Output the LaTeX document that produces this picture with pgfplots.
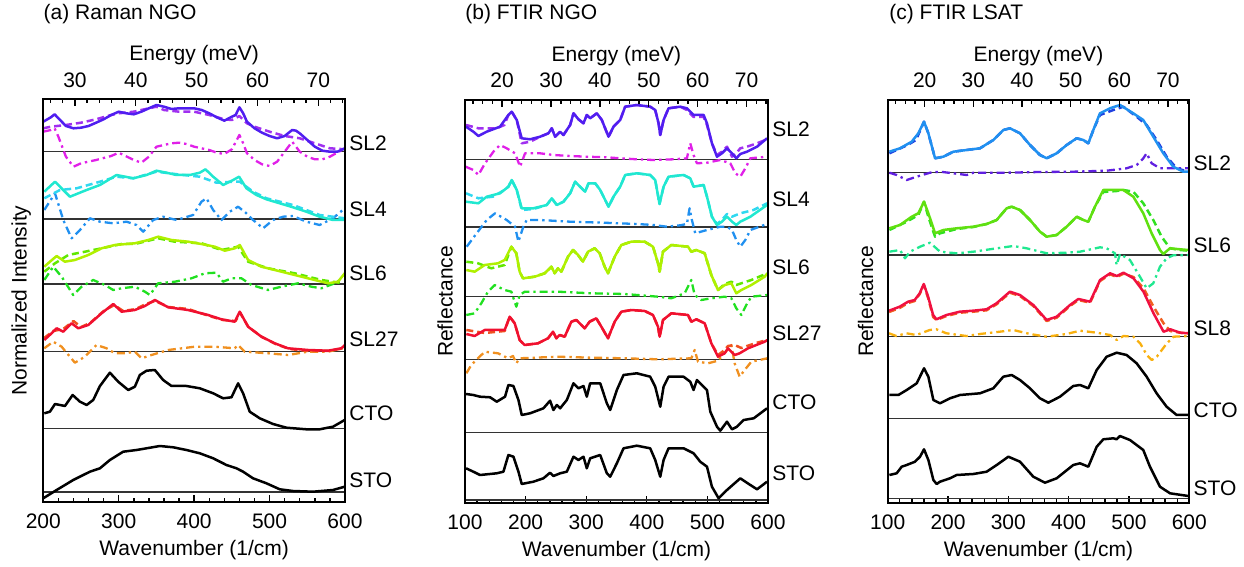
\documentclass[border=0pt]{standalone}
\usepackage{fontspec}
\setmainfont{Liberation Sans}
\usepackage{pgfplots}
\pgfplotsset{compat=1.18}
\definecolor{aA}{HTML}{501EF0}\definecolor{aB}{HTML}{A030F0}\definecolor{aC}{HTML}{E020E8}
\definecolor{bA}{HTML}{20E8D0}\definecolor{bB}{HTML}{30D8F0}\definecolor{bC}{HTML}{2090F0}
\definecolor{cA}{HTML}{B0F000}\definecolor{cB}{HTML}{60E800}\definecolor{cC}{HTML}{20E020}
\definecolor{dA}{HTML}{F01030}\definecolor{dB}{HTML}{F05020}\definecolor{dC}{HTML}{F09020}
\definecolor{eA}{HTML}{2090F0}\definecolor{eB}{HTML}{2040E0}\definecolor{eC}{HTML}{6020E0}
\definecolor{fA}{HTML}{60E010}\definecolor{fB}{HTML}{30E020}\definecolor{fC}{HTML}{20E890}
\definecolor{gA}{HTML}{F01040}\definecolor{gB}{HTML}{F06020}\definecolor{gC}{HTML}{F8B010}
\tikzset{
 base/.style={line width=0.55pt, black!80},
 sol/.style={line width=1.25pt, line join=round},
 das/.style={line width=1.25pt, line join=round, dash pattern=on 3.5pt off 2pt},
 dd/.style={line width=1.15pt, line join=round, dash pattern=on 4pt off 2pt on 1.2pt off 2pt},
}
\pgfplotsset{
 mainax/.style={scale only axis, anchor=south west, y dir=reverse, ytick=\empty, xtick pos=left,
  minor x tick num=4, axis line style={line width=1.1pt}, major tick length=3.4pt, minor tick length=2pt,
  every tick/.append style={line width=0.7pt, black}, clip mode=individual,
  xlabel={Wavenumber (1/cm)}, xlabel style={at={(axis description cs:0.5,0)}, anchor=center, yshift=-24pt},
  xticklabel style={yshift=-2.5pt}, /pgf/number format/assume math mode=true,
  every axis plot/.append style={no markers}},
 topax/.style={scale only axis, anchor=south west, ymin=0, ymax=1, ytick=\empty, xtick pos=right,
  xticklabel pos=right, xtick={20,30,...,70}, minor xtick={14,16,...,74}, axis line style={line width=1.1pt},
  major tick length=3.4pt, minor tick length=2pt, every tick/.append style={line width=0.7pt, black},
  xmax=74.39, xlabel={Energy (meV)}, xlabel style={at={(axis description cs:0.5,1)}, anchor=center, yshift=22pt},
  xticklabel style={yshift=2.5pt}, /pgf/number format/assume math mode=true},
}
\begin{document}
\begin{tikzpicture}[font=\fontsize{10.5}{12.6}\selectfont]
\path[use as bounding box] (0,0) rectangle (622pt,283.5pt);
\node[anchor=west, inner sep=0pt] at (21.65pt,276.25pt) {(a) Raman NGO};
\node[anchor=west, inner sep=0pt] at (232.5pt,276.25pt) {(b) FTIR NGO};
\node[anchor=west, inner sep=0pt] at (444.5pt,276.25pt) {(c) FTIR LSAT};
%%%%%%%%%%%%%%%%%%%%%%%% (a)
\begin{axis}[mainax, at={(21.65pt,32.5pt)}, width=150.85pt, height=201.35pt, xmin=200, xmax=600,
 ymin=99.3, ymax=502, xtick={200,300,...,600}, ylabel={Normalized Intensity},
 ylabel style={at={(axis description cs:-0.073,0.5)}, anchor=center}]
\addplot[base] coordinates {(200,151.7)(600,151.7)};
\addplot[base] coordinates {(200,219)(600,219)};
\addplot[base] coordinates {(200,284)(600,284)};
\addplot[base] coordinates {(200,351.7)(600,351.7)};
\addplot[base] coordinates {(200,428.3)(600,428.3)};
\addplot[base] coordinates {(200,492)(600,492)};
% SL2
\addplot[dd,aC] coordinates {(200,131.7)(210,130)(215,128.3)(220,136.7)(230,156.7)(240,166.7)(250,163.3)(270,160)(290,156)(300,152.7)(320,160)(330,162.7)(340,156.7)(350,146.7)(370,143.3)(380,142.7)(390,144)(400,146.7)(420,150)(430,152.7)(440,154)(450,149.3)(460,135)(465,143.3)(470,153.3)(480,160)(490,164.3)(500,166)(510,161.7)(520,151.7)(530,141.7)(540,151.7)(550,156.7)(560,159.3)(570,159.3)(580,156.7)(600,148.3)};
\addplot[das,aB] coordinates {(200,128.3)(210,126.7)(230,125)(250,122.7)(270,119.3)(290,115)(300,113.3)(320,111.7)(340,108.3)(350,106.7)(360,110)(380,111.7)(400,111.7)(420,115)(440,119.3)(450,120)(460,116)(470,123.3)(480,126.7)(500,131.7)(520,136)(540,138.3)(560,143.3)(580,148.3)(600,149.3)};
\addplot[sol,aA] coordinates {(200,121.7)(210,117.3)(215,114.3)(220,118.3)(230,126)(240,128.3)(250,127.7)(260,126)(270,122.7)(280,119.3)(290,115)(300,111.7)(310,113.3)(320,114.3)(330,111.7)(340,108.3)(350,105)(360,106.7)(370,109)(380,108.3)(390,108.3)(400,108.3)(410,110)(420,113.3)(430,117.3)(440,120.7)(450,116.7)(455,115)(460,107.3)(465,113.3)(470,121.7)(480,128.3)(490,132.7)(500,136)(510,138.3)(520,136)(530,130)(535,130.7)(540,133.3)(550,140)(560,146.7)(570,150.7)(580,151.7)(590,151.7)(600,148.3)};
% SL4
\addplot[dd,bC] coordinates {(201.3,210)(215.5,193.3)(226.5,220)(237.5,238.3)(248.6,230)(261.8,218.3)(275.1,221.7)(292.7,223.3)(310.4,221.7)(323.6,225)(332.5,231.7)(345.7,220)(358.9,216.7)(376.6,220)(398.7,215)(409.7,201.7)(416.3,198.3)(425.2,210)(436.2,220)(447.2,211.7)(458.3,206.7)(469.3,213.3)(478.1,220)(491.4,228.3)(504.6,220)(517.9,216.7)(531.1,216)(548.8,221.7)(566.4,225)(584.1,218.3)(599.6,208.3)};
\addplot[das,bB] coordinates {(201.3,198.3)(222.1,190)(244.2,188.3)(275.1,181.7)(297.1,176.7)(319.2,178.3)(350.1,171.7)(385.4,175)(407.5,176.7)(429.6,182.7)(451.7,181.7)(460.5,181.7)(478.1,191.7)(495.8,198.3)(531.1,205)(566.4,215)(599.6,218.3)};
\addplot[sol,bA] coordinates {(201.3,191.7)(215.5,181.7)(235.3,196.7)(257.4,190)(275.1,185)(297.1,175)(319.2,178.3)(336.9,175)(350.1,170.7)(363.4,172.7)(376.6,175)(394.3,175)(407.5,172.7)(415,169.3)(425.2,176.7)(438.4,185)(451.7,180)(459.6,176.7)(469.3,188.3)(482.6,195)(495.8,199.3)(513.5,203.3)(531.1,207.3)(548.8,211.7)(566.4,216.7)(584.1,220)(599.6,220)};
% SL6
\addplot[dd,cC] coordinates {(201.3,280)(213.2,266.7)(224.3,276.7)(239.7,295)(250.8,286.7)(266.2,280)(281.7,285)(292.7,290)(303.8,288.3)(321.4,286.7)(334.7,291.7)(341.3,295)(352.3,283.3)(374.4,281.7)(396.5,278.3)(414.2,273.3)(429.6,272.7)(438.4,281.7)(449.5,278.3)(462.7,278.3)(476,285)(498,290)(515.7,286.7)(537.8,283.3)(555.4,286.7)(568.7,288.3)(586.4,283.3)(597.4,278.3)};
\addplot[das,cB] coordinates {(201.3,271.7)(215.5,263.3)(233.1,255)(255.2,251.7)(277.3,248.3)(303.8,244)(321.4,244)(352.3,238.3)(374.4,241.7)(409.7,243.3)(436.2,250)(458.3,246.7)(471.5,261.7)(498,268.3)(533.3,273.3)(568.7,280)(597.4,283.3)};
\addplot[sol,cA] coordinates {(201.3,266.7)(208.8,261.7)(217.7,256)(228.7,261.7)(241.9,260)(259.6,255)(277.3,248.3)(294.9,245)(321.4,243.3)(339.1,240)(352.3,236.7)(370,240)(392,241.7)(409.7,244)(427.4,246.7)(440.6,250.7)(453.9,248.3)(460.5,245)(471.5,260)(489.2,266.7)(506.8,270)(533.3,275)(559.8,280)(577.5,283.3)(590.7,281.7)(600,273)};
% SL27
\addplot[dd,dC] coordinates {(201.3,348.3)(213.2,341.7)(224.3,346.7)(241.9,362.7)(255.2,356.7)(270.6,345)(283.9,348.3)(294.9,353.3)(308.2,353.3)(321.4,351.7)(330.2,358.3)(343.5,355)(365.6,350)(400.9,346.7)(427.4,346.7)(453.9,348.3)(458.3,345)(467.1,351.7)(498,353.3)(524.5,355)(551,351.7)(577.5,351.7)(597.4,348.3)};
\addplot[das,dB] coordinates {(201.3,338)(213,331)(226.5,329)(240,321)(250,327)(262,323)(280,311)(294,305)(306,311)(323,309)(336,304)(348,301)(366,307)(392,309)(420,316)(438,320)(455,321)(461,313)(472,327)(490,337)(508,344)(526,349)(552,351)(578,351)(600,348)};
\addplot[sol,dA] coordinates {(201.3,340)(211,333.3)(217.7,328.3)(226.5,331.7)(237.5,323.3)(246.4,328.3)(259.6,325)(277.3,313.3)(292.7,304)(303.8,311.7)(321.4,310)(334.7,306)(347.9,300)(365.6,307.3)(392,310)(418.5,315)(436.2,319.3)(453.9,321.7)(460.5,311.7)(471.5,326.7)(489.2,336.7)(506.8,343.3)(524.5,348.3)(551,350)(577.5,350.7)(595.2,348.3)(600,345)};
% CTO, STO
\addplot[sol,black] coordinates {(201.3,413.3)(208.8,411.7)(215.5,404)(222.1,405)(228.7,406)(238.9,395)(248.6,401.7)(257.4,405)(266.2,400)(275.1,386)(288.3,372.7)(299.3,381.7)(312.6,390)(321.4,386.7)(328,375)(336.9,370.7)(347.9,370)(358.9,380)(370,386)(389.8,386)(407.5,388.3)(425.2,393.3)(438.4,398.3)(449.5,397.3)(458.3,383.3)(464.9,393.3)(473.7,411.7)(487,418.3)(504.6,424)(522.3,427.7)(548.8,429.3)(566.4,429.3)(584.1,426.7)(599.6,420)};
\addplot[sol,black] coordinates {(199.9,498.3)(217.7,490)(239.7,480)(261.8,471.7)(275.1,468.3)(288.3,460)(305.9,451.7)(323.6,450)(336.9,448.3)(354.5,446)(372.2,447.3)(389.8,450)(407.5,453.3)(425.2,458.3)(442.8,465)(456.1,468.3)(464.9,471.7)(478.1,478.3)(495.8,483.3)(513.5,489.3)(531.1,491)(557.6,491.7)(584.1,490)(599.6,486.7)};
\node[anchor=west, inner sep=0pt, xshift=2pt] at (axis cs:600,143) {SL2};
\node[anchor=west, inner sep=0pt, xshift=2pt] at (axis cs:600,209.5) {SL4};
\node[anchor=west, inner sep=0pt, xshift=2pt] at (axis cs:600,273) {SL6};
\node[anchor=west, inner sep=0pt, xshift=2pt] at (axis cs:600,339) {SL27};
\node[anchor=west, inner sep=0pt, xshift=2pt] at (axis cs:600,413) {CTO};
\node[anchor=west, inner sep=0pt, xshift=2pt] at (axis cs:600,480) {STO};
\end{axis}
\begin{axis}[topax, at={(21.65pt,32.5pt)}, width=150.85pt, height=201.35pt, xmin=24.80, xtick={30,40,...,70}, minor xtick={26,28,...,74}]
\end{axis}
%%%%%%%%%%%%%%%%%%%%%%%% (b)
\begin{axis}[mainax, at={(232.5pt,32pt)}, width=151.5pt, height=201.5pt, xmin=100, xmax=600,
 ymin=100, ymax=503, xtick={100,200,...,600}, ylabel={Reflectance},
 ylabel style={at={(axis description cs:-0.066,0.5)}, anchor=center}]
\addplot[base] coordinates {(100,159.3)(600,159.3)};
\addplot[base] coordinates {(100,227)(600,227)};
\addplot[base] coordinates {(100,296.7)(600,296.7)};
\addplot[base] coordinates {(100,359.3)(600,359.3)};
\addplot[base] coordinates {(100,432.3)(600,432.3)};
\addplot[base] coordinates {(100,500)(600,500)};
% SL2
\addplot[dd,aC] coordinates {(101.1,166.7)(113.8,170)(122.1,175)(133.1,163.3)(146.9,151.7)(157.8,145)(168.8,148.3)(182.6,153.3)(190.9,166.7)(199.1,153.3)(223.9,153.3)(246,155)(273.5,156)(301,156.7)(334,157.3)(356.1,158.3)(383.6,159.3)(411.1,160)(444.2,159.3)(466.2,158.3)(471.7,143.3)(477.2,155)(482.7,163.3)(499.3,162.7)(521.3,160)(537.8,163.3)(546.1,173.3)(554.3,176.7)(562.6,168.3)(570.9,158.3)(598.4,156.7)};
\addplot[das,aB] coordinates {(101.7,125)(122.1,128.3)(152,128.3)(165,125)(171.6,115)(177.1,111.7)(185.4,120)(193.6,143.3)(207.4,141.7)(223.9,136.7)(237.7,133.3)(243.2,128.3)(248.7,136.7)(257,131.7)(262.5,135)(273.5,125)(279,113.3)(287.2,119.3)(295.5,123.3)(301,115)(306.5,118.3)(317.5,113.3)(325.8,120)(336.8,136.7)(345.1,126.7)(356.1,120)(364.3,106.7)(383.6,105)(405.6,106.7)(413.9,110)(419.4,123.3)(422.2,135)(427.7,120)(435.9,108.3)(455.2,106.7)(466.2,110)(477.2,117)(493.8,117)(499.3,125)(507.5,143.3)(515.8,155)(524,151.7)(532.3,146.7)(540.6,156.7)(547.7,153.3)(554.3,148.3)(565.3,146.7)(581.9,143.3)(598.4,139.3)};
\addplot[sol,aA] coordinates {(101.7,126.7)(113.8,131.7)(122.1,136)(135.8,131.7)(157.8,126.7)(171.6,115)(177.1,111.7)(185.4,120)(193.6,138.3)(207.4,139.3)(223.9,136.7)(237.7,133.3)(243.2,128.3)(248.7,136.7)(257,131.7)(262.5,135)(273.5,125)(279,113.3)(287.2,119.3)(295.5,123.3)(301,115)(306.5,118.3)(317.5,113.3)(325.8,120)(336.8,136.7)(345.1,126.7)(356.1,120)(364.3,106.7)(383.6,105)(405.6,106.7)(413.9,110)(419.4,123.3)(422.2,135)(427.7,120)(435.9,108.3)(455.2,106.7)(466.2,108.3)(477.2,115)(493.8,115)(499.3,123.3)(507.5,143.3)(515.8,156.7)(524,153.3)(532.3,148.3)(540.6,153.3)(547.7,158.3)(554.3,154)(565.3,151.7)(581.9,146.7)(598.4,138.3)};
% SL4
\addplot[dd,bC] coordinates {(102.8,246.7)(119.3,233.3)(135.8,220)(149.6,213.3)(168.8,220)(182.6,226.7)(188.1,241.7)(196.3,226.7)(201.8,220)(223.9,220)(273.5,221.7)(328.5,222.7)(383.6,224)(411.1,225)(433.1,226.7)(455.2,225.3)(466.2,224)(470.6,208.3)(474.4,220)(479.9,233.3)(499.3,230)(521.3,226.7)(532.3,226.7)(540.6,230)(547.7,240)(554.3,246.7)(562.6,240)(570.9,230)(598.4,224)};
\addplot[das,bB] coordinates {(101.7,193.3)(122.1,198.3)(146,196.7)(165,190)(171.6,186.7)(177.1,180)(185.4,190)(193.6,210)(212.9,209)(234.9,205)(243.2,198.3)(251.5,205)(262.5,201.7)(273.5,193.3)(281.8,181.7)(290,186.7)(298.3,191.7)(303.8,183.3)(314.8,183.3)(323.1,190)(336.8,206.7)(345.1,196.7)(356.1,186.7)(364.3,175)(383.6,173.3)(405.6,175)(413.9,180)(421,204)(427.7,186.7)(435.9,176.7)(460.7,175)(471.7,178.3)(477.2,186.7)(493.8,185)(499.3,196.7)(507.5,216.7)(515.8,224)(524,220)(532.3,214)(540.6,216.7)(554.3,213.3)(576,210)(598.4,203.3)};
\addplot[sol,bA] coordinates {(101.7,201.7)(122.1,203.3)(135.8,196.7)(157.8,193.3)(171.6,186.7)(177.1,180)(185.4,190)(193.6,208.3)(212.9,208.3)(234.9,205)(243.2,198.3)(251.5,205)(262.5,201.7)(273.5,193.3)(281.8,181.7)(290,186.7)(298.3,191.7)(303.8,183.3)(314.8,183.3)(323.1,190)(336.8,206.7)(345.1,196.7)(356.1,186.7)(364.3,175)(383.6,173.3)(405.6,175)(413.9,180)(421,204)(427.7,186.7)(435.9,176.7)(460.7,175)(471.7,178.3)(477.2,186.7)(493.8,185)(499.3,196.7)(507.5,216.7)(515.8,225)(524,221.7)(532.3,216.7)(540.6,221.7)(547.7,225)(554.3,221.7)(570.9,216.7)(598.4,205)};
% SL6
\addplot[dd,cC] coordinates {(102.2,315)(115.9,313.3)(126.9,303.3)(137.9,291.7)(148.9,285)(165.5,290)(176.5,291.7)(184.7,306.7)(190.2,295)(198.5,291.7)(253.5,291.7)(308.5,293.3)(363.5,294)(418.5,296.7)(440.5,298.3)(462.5,293.3)(473.5,280)(479,295)(490,300)(506.5,298.3)(528.5,296.7)(539.5,298.3)(547.7,308.3)(556,315)(564.2,305)(572.5,296.7)(598.9,295)};
\addplot[das,cB] coordinates {(102.2,261.7)(121.4,263.3)(143.4,268.3)(165.5,265)(176.5,246.7)(184.7,253.3)(190.2,271.7)(195.7,278.3)(215,276.7)(231.5,273.3)(242.5,266.7)(248,273.3)(253.5,268.3)(259,271.7)(270,256.7)(278.2,250)(286.5,255)(294.7,261.7)(303,251.7)(314,248.3)(322.2,253.3)(330.5,266.7)(336,273.3)(347,256.7)(358,245)(374.5,241.7)(396.5,241.7)(410.2,246.7)(418.5,263.3)(421.2,271.7)(426.7,251.7)(440.5,245)(468,246.7)(473.5,251.7)(481.7,250)(495.5,253.3)(506.5,275)(517.5,290)(528.5,284)(539.5,281.7)(547.7,285)(556,283.3)(572.5,280)(598.9,273.3)};
\addplot[sol,cA] coordinates {(102.2,270)(115.9,271.7)(132.5,265)(154.5,263.3)(165.5,260)(176.5,246.7)(184.7,253.3)(190.2,271.7)(195.7,278.3)(215,276.7)(231.5,273.3)(242.5,266.7)(248,273.3)(253.5,268.3)(259,271.7)(270,256.7)(278.2,250)(286.5,255)(294.7,261.7)(303,251.7)(314,248.3)(322.2,253.3)(330.5,266.7)(336,273.3)(347,256.7)(358,245)(374.5,241.7)(396.5,241.7)(410.2,246.7)(418.5,263.3)(421.2,271.7)(426.7,251.7)(440.5,245)(468,246.7)(473.5,251.7)(481.7,250)(495.5,253.3)(506.5,275)(517.5,290)(528.5,285)(539.5,283.3)(547.7,293.3)(556,290)(572.5,285)(594.5,276.7)(598.9,273.3)};
% SL27
\addplot[dd,dC] coordinates {(102.2,373.3)(110.4,365)(132.5,351.7)(154.5,353.3)(171,358.3)(179.2,356)(184.7,363.3)(190.2,358.3)(253.5,356.7)(308.5,357.7)(363.5,358.3)(418.5,359.3)(473.5,358.3)(479,350)(484.5,361.7)(501,363.3)(517.5,360.7)(539.5,345)(545,363.3)(553.2,376.7)(561.5,370)(572.5,361.7)(598.9,358.3)};
\addplot[das,dB] coordinates {(102.2,330)(132.5,333)(165.5,331)(173.7,316.7)(182,323.3)(190.2,340)(198.5,345)(220.5,343.3)(237,338.3)(245.2,331.7)(250.7,338.3)(256.2,335)(264.5,336.7)(275.5,321.7)(283.7,320)(292,325)(297.5,328.3)(305.7,321.7)(316.7,318.3)(325,326.7)(336,338.3)(347,321.7)(358,311.7)(374.5,310)(396.5,311)(410.2,315)(418.5,326.7)(421.2,336.7)(426.7,320)(440.5,313.3)(468,315)(473.5,321.7)(481.7,319.3)(495.5,323.3)(506.5,343.3)(517.5,355)(528.5,350)(534,346)(545,345)(556,348)(580,343)(598.9,340)};
\addplot[sol,dA] coordinates {(102.2,334)(115.9,336)(132.5,330)(154.5,330)(165.5,330)(173.7,316.7)(182,323.3)(190.2,340)(198.5,345)(220.5,343.3)(237,338.3)(245.2,331.7)(250.7,338.3)(256.2,335)(264.5,336.7)(275.5,321.7)(283.7,320)(292,325)(297.5,328.3)(305.7,321.7)(316.7,318.3)(325,326.7)(336,338.3)(347,321.7)(358,311.7)(374.5,310)(396.5,311)(410.2,315)(418.5,326.7)(421.2,336.7)(426.7,320)(440.5,313.3)(468,315)(473.5,321.7)(481.7,319.3)(495.5,323.3)(506.5,343.3)(517.5,356.7)(528.5,353.3)(534,348.3)(545,355)(553.2,353.3)(567,348.3)(594.5,341.7)(598.9,340)};
% CTO, STO
\addplot[sol,black] coordinates {(101.7,394)(113.8,395)(124.8,396.7)(141.4,397.3)(152.4,401.7)(166.1,396.7)(171.6,385)(179.9,386)(188.2,400)(193.6,415)(207.4,413.3)(229.4,408.3)(240.4,400.7)(245.9,410)(251.5,405)(257,408.3)(268,400)(279,383.3)(287.2,388.3)(295.5,386)(301,396.7)(306.5,383.3)(323.1,383.3)(334.1,403.3)(339.6,410)(350.6,390)(361.6,375)(383.6,373.3)(405.6,376.7)(413.9,386.7)(422.2,406.7)(427.7,386.7)(435.9,376.7)(460.7,376.7)(471.7,381.7)(477.2,390)(482.7,380)(499.3,390)(504.8,411.7)(515.8,426.7)(521.3,430.7)(532.3,421.7)(540.6,429.3)(548.9,426.7)(559.9,420)(576.4,418.3)(598.4,408.3)};
\addplot[sol,black] coordinates {(101.7,468.3)(113.8,471.7)(124.8,475)(152.4,473.3)(163.4,471.7)(171.6,455)(179.9,456.7)(188.2,471.7)(193.6,484)(212.9,481.7)(229.4,478.3)(240.4,472.7)(245.9,476)(257,473.3)(268,471.7)(279,456.7)(287.2,460)(295.5,456.7)(301,468.3)(306.5,458.3)(323.1,455)(334.1,473.3)(339.6,476.7)(350.6,463.3)(361.6,448.3)(383.6,445.7)(405.6,448.3)(413.9,460)(422.2,476.7)(427.7,460)(435.9,448.3)(460.7,448.3)(477.2,453.3)(488.2,461.7)(499.3,466.7)(507.5,486.7)(518.5,498.3)(532.3,490)(554.3,478.3)(570.9,485)(581.9,489.3)(598.4,481.7)};
\node[anchor=west, inner sep=0pt, xshift=2pt] at (axis cs:600,129) {SL2};
\node[anchor=west, inner sep=0pt, xshift=2pt] at (axis cs:600,199) {SL4};
\node[anchor=west, inner sep=0pt, xshift=2pt] at (axis cs:600,267) {SL6};
\node[anchor=west, inner sep=0pt, xshift=2pt] at (axis cs:600,333) {SL27};
\node[anchor=west, inner sep=0pt, xshift=2pt] at (axis cs:600,402) {CTO};
\node[anchor=west, inner sep=0pt, xshift=2pt] at (axis cs:600,473) {STO};
\end{axis}
\begin{axis}[topax, at={(232.5pt,32pt)}, width=151.5pt, height=201.5pt, xmin=12.40]
\end{axis}
%%%%%%%%%%%%%%%%%%%%%%%% (c)
\begin{axis}[mainax, at={(443.85pt,32pt)}, width=150.8pt, height=201.5pt, xmin=100, xmax=600,
 ymin=100, ymax=503, xtick={100,200,...,600}, ylabel={Reflectance},
 ylabel style={at={(axis description cs:-0.073,0.5)}, anchor=center}]
\addplot[base] coordinates {(100,172.3)(600,172.3)};
\addplot[base] coordinates {(100,255)(600,255)};
\addplot[base] coordinates {(100,336.3)(600,336.3)};
\addplot[base] coordinates {(100,418.3)(600,418.3)};
\addplot[base] coordinates {(100,498.3)(600,498.3)};
% SL2
\addplot[dd,eC] coordinates {(102.8,172.7)(114.9,175)(131.5,180)(148.1,176.7)(170.2,172.7)(186.7,171.7)(208.8,173.3)(230.9,175)(242,172.7)(297.2,172.7)(352.5,172)(407.7,171.7)(463,170.7)(496.1,168.3)(512.7,165)(523.8,158.3)(529.3,153.3)(537.6,163.3)(551.4,168.3)(573.5,168.3)(598.4,168.3)};
\addplot[das,eB] coordinates {(102.8,153.3)(133,145)(146.9,140)(160.2,121.7)(167.4,133.3)(178.5,158.3)(192.3,156.7)(208.8,151.7)(230.9,150)(253,148.3)(275.1,140)(291.7,130)(302.8,128.3)(319.3,133.3)(335.9,145)(352.5,155)(363.6,158.3)(380.1,153.3)(396.7,145)(413.2,138.3)(424.3,140)(432.6,143.3)(440.9,130)(451.9,115)(474.1,110)(490.6,106.7)(512.7,116.7)(529.3,125)(545.8,140)(562.4,156.7)(579,168.3)(598.4,171.7)};
\addplot[sol,eA] coordinates {(102.8,151.7)(120.4,148.3)(139.8,141.7)(150.8,133.3)(160.2,121.7)(167.4,133.3)(178.5,158.3)(192.3,156.7)(208.8,151.7)(230.9,150)(253,148.3)(275.1,140)(291.7,130)(302.8,128.3)(319.3,133.3)(335.9,145)(352.5,155)(363.6,158.3)(380.1,153.3)(396.7,145)(413.2,138.3)(424.3,140)(432.6,143.3)(440.9,130)(451.9,113.3)(468.5,108.3)(485.1,105)(507.2,113.3)(523.7,120)(540.3,136.7)(556.9,153.3)(573.4,166.7)(590,171.7)(598.4,171.7)};
% SL6
\addplot[dd,fC] coordinates {(102.8,251.7)(120.4,250)(128.7,258.3)(137,251.7)(153.6,246.7)(170.2,242.7)(186.7,251.7)(214.4,253.3)(242,251.7)(269.6,249.3)(308.3,246)(330.4,248.3)(363.6,253.3)(396.7,252.7)(418.8,251.7)(452,247.3)(463,248.3)(476.8,253.3)(479.5,265)(485.1,254)(501.6,260)(518.2,276.7)(529.3,288.3)(540.3,283.3)(551.4,266.7)(562.4,258.3)(573.5,255.3)(598.4,255)};
\addplot[das,fB] coordinates {(102.8,230)(131.5,221.7)(150.8,215)(160.2,201.7)(167.4,216.7)(178.5,236.7)(186.7,233.3)(214.4,229)(242,227)(264.1,224)(280.7,220)(297.2,208.3)(305.5,206.7)(319.3,210)(335.9,220)(352.5,231.7)(363.6,236.7)(380.1,235)(396.7,226.7)(413.2,216.7)(424.3,220)(432.6,221.7)(443.6,206.7)(457.4,192)(479.5,191)(490.6,190)(507.2,191.7)(523.7,203.3)(540.3,220)(554.1,236.7)(568,248.3)(584.5,250)(598.4,250.7)};
\addplot[sol,fA] coordinates {(102.8,228.3)(120.4,225)(139.8,216.7)(150.8,213.3)(160.2,201.7)(167.4,213.3)(178.5,233.3)(192.3,230)(214.4,228.3)(242,226.7)(264.1,224)(280.7,220)(297.2,208.3)(305.5,206.7)(319.3,210)(335.9,220)(352.5,231.7)(363.6,236.7)(380.1,235)(396.7,226.7)(413.2,216.7)(424.3,220)(432.6,221.7)(443.6,206.7)(457.4,190)(479.5,190)(490.6,190)(507.2,196.7)(523.7,213.3)(537.6,233.3)(551.4,250)(556.9,254)(568,248.3)(584.5,249.3)(598.4,250)};
% SL8
\addplot[dd,gC] coordinates {(102.2,333.3)(114.4,336)(131,333.3)(147.6,335)(169.7,330)(180.8,329.3)(197.4,333.3)(230.6,336)(252.8,334)(286,331.7)(308.1,330)(335.8,334)(363.5,336.7)(396.7,334)(418.8,330.7)(446.5,332.7)(468.7,335)(479.8,340)(490.9,336)(507.5,336.7)(518.5,343.3)(529.6,355)(537.9,360)(546.2,356.7)(562.8,343.3)(573.9,336.7)(598.9,336)};
\addplot[das,gB] coordinates {(102.2,312)(119.9,308)(133.8,303)(144.8,301)(153.1,294)(159.8,285)(167,298)(175.3,317)(180.8,320)(197.4,316)(219.6,312.7)(241.7,311.7)(263.9,310.3)(280.5,304.3)(302.6,292.7)(319.2,296)(341.4,306)(363.5,321)(380.1,317.7)(402.3,306)(416.1,300)(435.5,302.7)(452.1,281)(468.7,274.3)(479.8,277)(490.9,273.7)(507.5,277)(524.1,288.3)(540.7,306.7)(557.3,323.3)(568.4,331)(585,332.7)(598.9,333.3)};
\addplot[sol,gA] coordinates {(102.2,310.7)(119.9,306.7)(133.8,301.7)(144.8,300)(153.1,293.3)(159.8,284)(167,296.7)(175.3,315)(180.8,319.3)(197.4,315)(219.6,311.7)(241.7,310.7)(263.9,309.3)(280.5,303.3)(302.6,291.7)(319.2,295)(341.4,305)(363.5,320)(380.1,316.7)(402.3,305)(416.1,299)(435.5,301.7)(452.1,280)(468.7,273.3)(479.8,276)(490.9,272.7)(507.5,278.3)(524.1,291.7)(540.7,313.3)(557.3,331.7)(568.4,329.3)(585,332.7)(598.9,333.3)};
% CTO, STO
\addplot[sol,black] coordinates {(102.8,395)(117.7,395)(131.5,390)(148.1,383.3)(160.2,368.3)(167.4,376.7)(175.7,400)(186.7,403.3)(203.3,398.3)(219.9,395)(253,393.3)(275.1,388.3)(291.7,376.7)(305.5,375)(319.3,380)(335.9,388.3)(352.5,398.3)(366.3,402.7)(385.6,396.7)(407.7,386)(418.8,385)(432.6,388.3)(446.5,370)(463,356.7)(479.6,352.7)(496.1,355)(512.7,363.3)(529.3,376.7)(545.8,393.3)(562.4,406.7)(579,415)(598.4,415)};
\addplot[sol,black] coordinates {(102.8,475)(114.9,473.3)(123.2,466.7)(131.5,465)(145.3,461.7)(153.6,456.7)(160.2,449.3)(167.4,460)(175.7,480)(181.2,484)(186.7,481.7)(203.3,478.3)(214.4,475)(242,474)(264.1,471.7)(280.7,465)(300,456.7)(319.3,461.7)(341.4,476.7)(360.7,482.7)(380.1,478.3)(407.7,465)(418.8,463.3)(432.6,466.7)(446.5,446.7)(457.5,439.3)(474.1,438.3)(479.6,439.3)(485.1,436)(501.6,440)(523.7,450)(534.8,466.7)(551.4,486.7)(568,493.3)(598.4,496)};
\node[anchor=west, inner sep=0pt, xshift=2pt] at (axis cs:600,163) {SL2};
\node[anchor=west, inner sep=0pt, xshift=2pt] at (axis cs:600,245) {SL6};
\node[anchor=west, inner sep=0pt, xshift=2pt] at (axis cs:600,328) {SL8};
\node[anchor=west, inner sep=0pt, xshift=2pt] at (axis cs:600,410) {CTO};
\node[anchor=west, inner sep=0pt, xshift=2pt] at (axis cs:600,488) {STO};
\end{axis}
\begin{axis}[topax, at={(443.85pt,32pt)}, width=150.8pt, height=201.5pt, xmin=12.40]
\end{axis}
\end{tikzpicture}
\end{document}
